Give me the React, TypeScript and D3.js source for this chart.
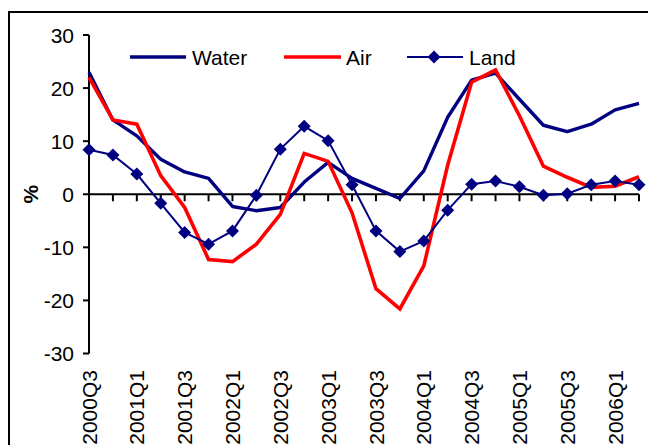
import React from "react";
import * as d3 from "d3";

const categories = [
  "2000Q3","2000Q4","2001Q1","2001Q2","2001Q3","2001Q4",
  "2002Q1","2002Q2","2002Q3","2002Q4","2003Q1","2003Q2",
  "2003Q3","2003Q4","2004Q1","2004Q2","2004Q3","2004Q4",
  "2005Q1","2005Q2","2005Q3","2005Q4","2006Q1","2006Q2",
];
const water = [23,14,11,6.6,4.2,3,-2.3,-3.1,-2.5,2.3,6,3,1.1,-0.8,4.4,14.5,21.5,22.8,17.9,13,11.8,13.2,15.9,17.1];
const air = [22,14,13.2,3.5,-2.5,-12.3,-12.7,-9.4,-3.8,7.7,6.2,-3.5,-17.8,-21.6,-13.5,5.5,21.1,23.4,14.8,5.3,3.2,1.3,1.5,3.3];
const land = [8.4,7.4,3.8,-1.7,-7.2,-9.4,-6.9,-0.2,8.5,12.8,10.1,1.8,-6.9,-10.8,-8.8,-3,1.9,2.5,1.4,-0.2,0.1,1.8,2.5,1.8];
const yTicks = [-30,-20,-10,0,10,20,30];
const xLabels = categories.filter((_, i) => i % 2 === 0);

const NAVY = "#000080";
const RED = "#FF0000";
const FONT = "'Liberation Sans', Arial, sans-serif";

export default function App() {
  const x = d3.scalePoint<string>().domain(categories).range([89, 639]);
  const y = d3.scaleLinear().domain([-30, 30]).range([353.5, 35]);
  const line = d3
    .line<number>()
    .x((_, i) => x(categories[i]) as number)
    .y((d) => y(d));
  const diamond = (cx: number, cy: number, r = 6.5) =>
    `M${cx},${cy - r}L${cx + r},${cy}L${cx},${cy + r}L${cx - r},${cy}Z`;

  return (
    <svg
      width={648}
      height={445}
      style={{ position: "absolute", left: 0, top: 0, background: "#fff" }}
      fontFamily={FONT}
    >
      <rect x={0} y={0} width={648} height={445} fill="#fff" />
      {/* frame */}
      <rect x={9} y={12} width={700} height={500} fill="none" stroke="#000" strokeWidth={2} />

      {/* y axis */}
      <line x1={89} x2={89} y1={y(30)} y2={y(-30)} stroke="#000" strokeWidth={2} />
      {yTicks.map((t) => (
        <g key={t}>
          <line x1={83} x2={89} y1={y(t)} y2={y(t)} stroke="#000" strokeWidth={2} />
          <text x={74} y={y(t)} dy="0.36em" textAnchor="end" fontSize={21} fill="#000">
            {t}
          </text>
        </g>
      ))}
      <text
        transform={`translate(30,${y(0)}) rotate(-90)`}
        textAnchor="middle"
        dy="0.36em"
        fontSize={21}
        fontWeight="bold"
      >
        %
      </text>

      {/* x axis at zero */}
      <line x1={89} x2={639} y1={y(0)} y2={y(0)} stroke="#000" strokeWidth={2} />
      {categories.map((c) => (
        <line key={c} x1={x(c)} x2={x(c)} y1={y(0)} y2={y(0) + 7} stroke="#000" strokeWidth={2} />
      ))}
      {xLabels.map((c) => (
        <text
          key={c}
          transform={`translate(${x(c)},370) rotate(-90)`}
          textAnchor="end"
          dy="0.36em"
          fontSize={21}
          fill="#000"
        >
          {c}
        </text>
      ))}

      {/* series */}
      <path d={line(water) as string} fill="none" stroke={NAVY} strokeWidth={3.4} strokeLinejoin="round" />
      <path d={line(air) as string} fill="none" stroke={RED} strokeWidth={3.6} strokeLinejoin="miter" />
      <path d={line(land) as string} fill="none" stroke={NAVY} strokeWidth={2} />
      {land.map((v, i) => (
        <path key={i} d={diamond(x(categories[i]) as number, y(v))} fill={NAVY} />
      ))}

      {/* legend */}
      <line x1={130} x2={186} y1={57} y2={57} stroke={NAVY} strokeWidth={3.4} />
      <text x={192} y={57} dy="0.36em" fontSize={21}>Water</text>
      <line x1={284} x2={341} y1={57} y2={57} stroke={RED} strokeWidth={3.6} />
      <text x={346} y={57} dy="0.36em" fontSize={21}>Air</text>
      <line x1={407} x2={463} y1={57} y2={57} stroke={NAVY} strokeWidth={2} />
      <path d={diamond(434, 57)} fill={NAVY} />
      <text x={469} y={57} dy="0.36em" fontSize={21}>Land</text>
    </svg>
  );
}
